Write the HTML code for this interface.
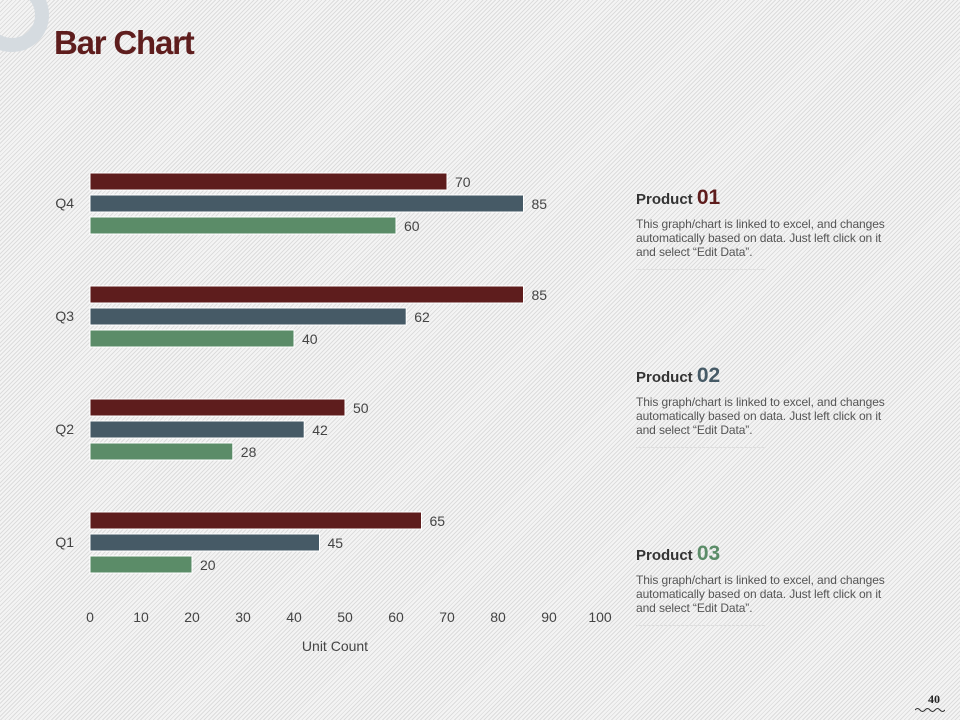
<!DOCTYPE html>
<html><head><meta charset="utf-8"><style>
html,body{margin:0;padding:0}
body{width:960px;height:720px;position:relative;overflow:hidden;font-family:"Liberation Sans",sans-serif;
background:#f3f3f3 repeating-linear-gradient(135deg,#f4f4f4 0,#f4f4f4 2px,#dcdcdc 2px,#dcdcdc 3px);}
.title{position:absolute;left:54px;top:24px;font-size:33px;font-weight:bold;color:#5e1d1d;letter-spacing:-1.2px}
.ring{position:absolute;left:-25px;top:-22px;width:46px;height:46px;border:14px solid #d5dbe0;border-radius:50%}
.prod{position:absolute;left:636px;width:300px}
.prod h3{margin:0;font-size:15px;font-weight:bold;color:#333}
.prod h3 span{font-size:21px}
.prod p{margin:7px 0 0;font-size:12px;line-height:14px;color:#555;white-space:nowrap;letter-spacing:-0.1px}
.prod .ln{width:130px;border-top:1px solid #e0e0e0;margin-top:10px}
.pn{position:absolute;left:928px;top:692px;font-family:"Liberation Serif",serif;font-size:12px;font-weight:bold;color:#222}
</style></head><body>
<div class="ring"></div>
<div class="title">Bar Chart</div>
<svg id="chart" width="960" height="720" style="position:absolute;left:0;top:0"></svg>
<div class="prod" style="top:186px"><h3>Product <span style="color:#5e1d1d">01</span></h3><p>This graph/chart is linked to excel, and changes<br>automatically based on data. Just left click on it<br>and select “Edit Data”.</p><div class="ln"></div></div>
<div class="prod" style="top:364px"><h3>Product <span style="color:#465a66">02</span></h3><p>This graph/chart is linked to excel, and changes<br>automatically based on data. Just left click on it<br>and select “Edit Data”.</p><div class="ln"></div></div>
<div class="prod" style="top:542px"><h3>Product <span style="color:#5b8c68">03</span></h3><p>This graph/chart is linked to excel, and changes<br>automatically based on data. Just left click on it<br>and select “Edit Data”.</p><div class="ln"></div></div>
<div class="pn">40</div>
<svg width="30" height="6" style="position:absolute;left:915px;top:707px"><path d="M0 3 Q2.5 0 5 3 T10 3 T15 3 T20 3 T25 3 T30 3" fill="none" stroke="#333" stroke-width="1"/></svg>
<script>
const categories=["Q1","Q2","Q3","Q4"];
const product1=[65,50,85,70];
const product2=[45,42,62,85];
const product3=[20,28,40,60];
const ticks=[0,10,20,30,40,50,60,70,80,90,100];
const NS="http://www.w3.org/2000/svg";
const svg=document.getElementById('chart');
const x=v=>90+v*5.1;
const yc=i=>542-i*113;
const colors=["#5e1d1d","#465a66","#5b8c68"];
const series=[product1,product2,product3];
function mk(t,a){const e=document.createElementNS(NS,t);for(const k in a)e.setAttribute(k,a[k]);svg.appendChild(e);return e;}
ticks.forEach(t=>{const e=mk('text',{x:x(t),y:622,'text-anchor':'middle','font-size':14,fill:'#444'});e.textContent=t;

});
const xt=mk('text',{x:335,y:651,'text-anchor':'middle','font-size':14,fill:'#444'});xt.textContent='Unit Count';


categories.forEach((c,i)=>{
 const l=mk('text',{x:74,y:yc(i)+5,'text-anchor':'end','font-size':14,fill:'#444'});l.textContent=c;
 
 
 series.forEach((s,j)=>{
  const yy=yc(i)-30+j*22;
  const r=mk('rect',{x:x(0),y:yy,width:x(s[i])-x(0),height:17,fill:colors[j],stroke:'#fff','stroke-width':1});
  
  
  const v=mk('text',{x:x(s[i])+8,y:yy+14,'font-size':14,fill:'#444'});v.textContent=s[i];
  
  
 });
});
</script>
</body></html>
